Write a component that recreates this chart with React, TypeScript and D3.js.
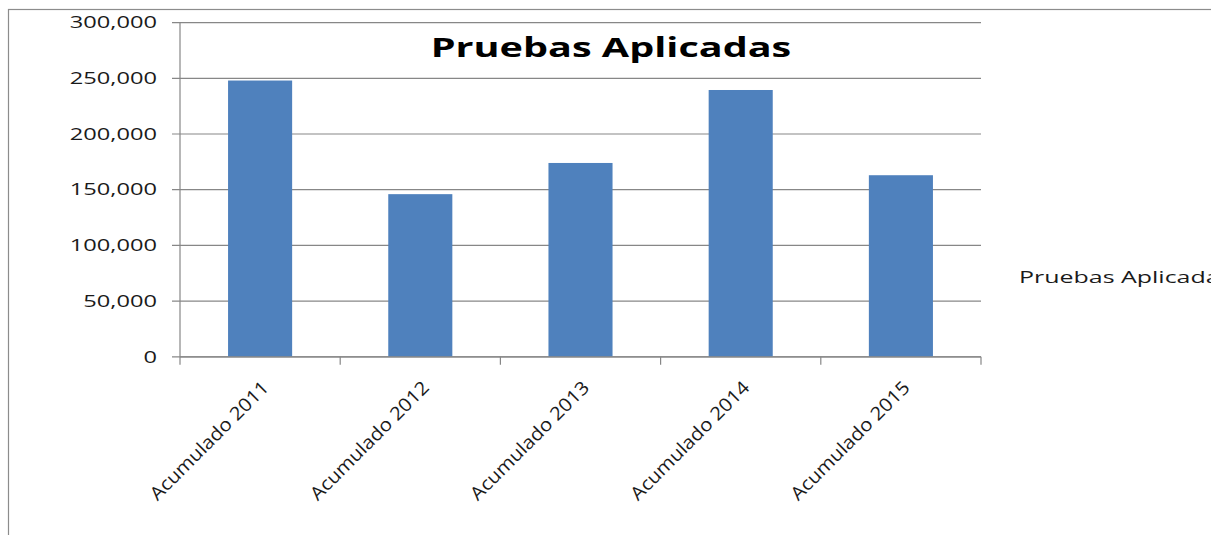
import React from "react";
import * as d3 from "d3";

const categories = ["Acumulado 2011", "Acumulado 2012", "Acumulado 2013", "Acumulado 2014", "Acumulado 2015"];
const values = [248000, 146000, 174000, 239500, 163000];
const yTicks = [0, 50000, 100000, 150000, 200000, 250000, 300000];
const title = "Pruebas Aplicadas";
const legendLabel = "Pruebas Aplicadas";

const W = 1211;
const H = 535;
const plot = { left: 180, right: 981, top: 22.6, bottom: 356.8 };
const FONT = "'Open Sans', 'Noto Sans', sans-serif";
const SX = 1.48;
const GRID = "#878787";
const BAR = "#4F81BD";

export default function App() {
  const x = d3
    .scaleBand<string>()
    .domain(categories)
    .range([plot.left, plot.right])
    .paddingInner(0.6)
    .paddingOuter(0.3);
  const y = d3.scaleLinear().domain([0, 300000]).range([plot.bottom, plot.top]);
  const fmt = d3.format(",");
  const step = x.step();
  const boundaries = d3.range(categories.length + 1).map((i) => plot.left + i * step);

  return (
    <svg
      width={W}
      height={H}
      style={{ position: "absolute", left: 0, top: 0, background: "#fff" }}
      fontFamily={FONT}
    >
      <rect x={8.5} y={9.5} width={1400} height={700} fill="#fff" stroke="#8c8c8c" strokeWidth={1.2} />

      {yTicks.map((t) => (
        <g key={t}>
          <line x1={plot.left - 8} x2={plot.right} y1={y(t)} y2={y(t)} stroke={GRID} strokeWidth={1.2} />
          <text
            transform={`translate(157,${y(t)}) scale(${SX},1)`}
            textAnchor="end"
            dy="0.36em"
            fontSize={16}
            fill="#1a1a1a"
          >
            {fmt(t)}
          </text>
        </g>
      ))}

      {categories.map((c, i) => (
        <rect
          key={c}
          x={x(c)}
          y={y(values[i])}
          width={x.bandwidth()}
          height={plot.bottom - y(values[i])}
          fill={BAR}
        />
      ))}

      <line x1={plot.left} x2={plot.left} y1={plot.top} y2={plot.bottom} stroke={GRID} strokeWidth={1.2} />
      <line x1={plot.left} x2={plot.right} y1={plot.bottom} y2={plot.bottom} stroke={GRID} strokeWidth={1.2} />
      {boundaries.map((b, i) => (
        <line key={i} x1={b} x2={b} y1={plot.bottom} y2={plot.bottom + 8} stroke={GRID} strokeWidth={1.2} />
      ))}

      {categories.map((c) => {
        const cx = (x(c) as number) + x.bandwidth() / 2;
        return (
          <text
            key={c}
            transform={`translate(${cx + 10},${plot.bottom + 32}) rotate(-45) scale(1.1,1)`}
            textAnchor="end"
            fontSize={18.5}
            fill="#1a1a1a"
          >
            {c}
          </text>
        );
      })}

      <text
        transform={`translate(611,57) scale(1.44,1)`}
        textAnchor="middle"
        fontSize={27.5}
        fontWeight="bold"
        fill="#000"
      >
        {title}
      </text>

      <text transform={`translate(1019,283) scale(1.56,1)`} fontSize={16} fill="#1a1a1a">
        {legendLabel}
      </text>
    </svg>
  );
}
